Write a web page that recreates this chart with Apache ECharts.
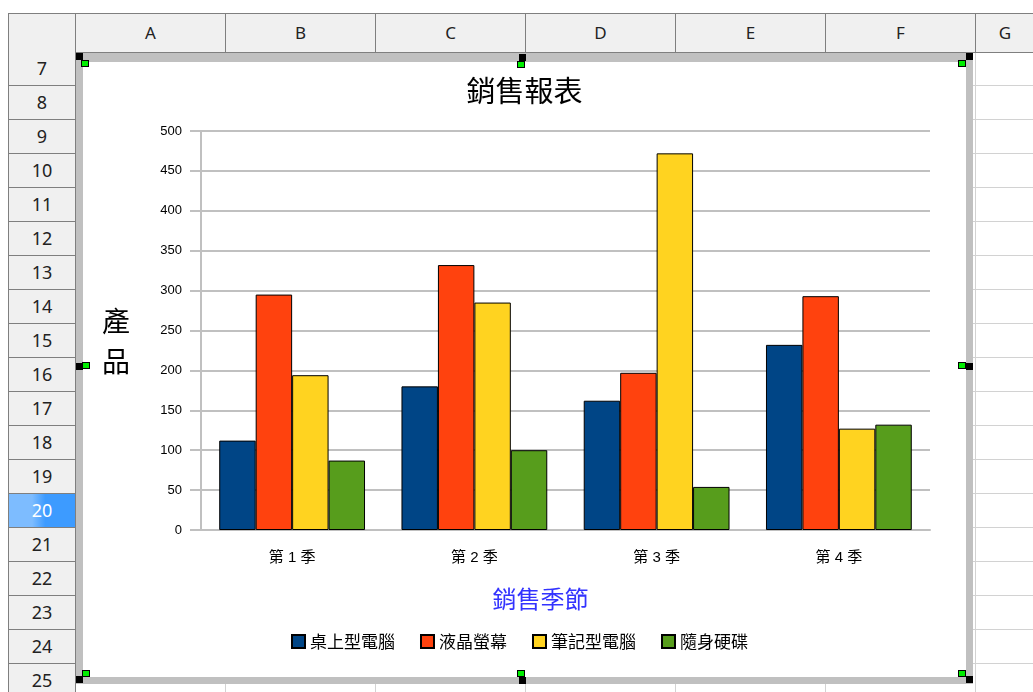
<!DOCTYPE html>
<html>
<head>
<meta charset="utf-8">
<title>銷售報表</title>
<script src="https://cdn.jsdelivr.net/npm/echarts@6/dist/echarts.min.js"></script>
<style>
  html, body { margin: 0; padding: 0; background: #fff; width: 1033px; height: 692px; overflow: hidden; position: relative; font-family: "Noto Sans", "Open Sans", sans-serif; }
  .abs { position: absolute; box-sizing: border-box; }
  .colhead { background: #f0f0f0; border: 1px solid #7f7f7f; border-left: none; top: 13px; height: 40px; text-align: center; line-height: 38px; font-size: 17px; color: #222; }
  .rowhead { background: #f0f0f0; border: 1px solid #7f7f7f; border-top: none; left: 8px; width: 68px; height: 34px; text-align: center; line-height: 33px; font-size: 18px; color: #222; }
  .rowhead.sel { background: linear-gradient(to right, #7dbcff 0%, #7dbcff 35%, #3d9bff 55%, #3d9bff 100%); color: #fff; }
  .hline { height: 1px; background: #d2d2d2; }
  .vline { width: 1px; background: #d2d2d2; }
  .blk { width: 7px; height: 7px; background: #000; }
  .grn { width: 8px; height: 7px; background: #00ee00; border: 1px solid #000; }
</style>
</head>
<body>
<div id="sheet"></div>
<div class="abs" style="left:76px;top:53px;width:897px;height:631px;background:#c0c0c0;"></div>
<div id="main" class="abs" style="left:83px;top:62px;width:883px;height:615px;background:#fff;"></div>
<div id="handles"></div>
<script>
  // 表格外框
  var columns = ["A", "B", "C", "D", "E", "F", "G"];
  var rows = [7, 8, 9, 10, 11, 12, 13, 14, 15, 16, 17, 18, 19, 20, 21, 22, 23, 24, 25];
  var selectedRow = 20;

  // 圖表資料
  var categories = ["第 1 季", "第 2 季", "第 3 季", "第 4 季"];
  var seriesNames = ["桌上型電腦", "液晶螢幕", "筆記型電腦", "隨身硬碟"];
  var desktop = [112, 180, 162, 232];
  var lcd = [295, 332, 197, 293];
  var notebook = [194, 285, 472, 127];
  var hdd = [87, 100, 54, 132];
  var colors = ["#004586", "#ff420e", "#ffd320", "#579d1c"];

  var html = "";
  // 欄標題
  html += "<div class='abs colhead' style='left:8px;width:68px;border-left:1px solid #7f7f7f'></div>";
  columns.forEach(function(c, i) {
    var left = 76 + i * 150;
    var w = i === columns.length - 1 ? 1033 - left + 2 : 150;
    html += "<div class='abs colhead' style='left:" + left + "px;width:" + w + "px'>" + c + "</div>";
  });
  // 儲存格格線
  rows.forEach(function(r, i) {
    var top = 52 + i * 34;
    html += "<div class='abs hline' style='left:76px;width:960px;top:" + (top + 33) + "px'></div>";
  });
  for (var k = 1; k <= 7; k++) {
    html += "<div class='abs vline' style='top:53px;height:640px;left:" + (75 + k * 150) + "px'></div>";
  }
  // 列標題
  rows.forEach(function(r, i) {
    var top = 52 + i * 34;
    html += "<div class='abs rowhead" + (r === selectedRow ? " sel" : "") + "' style='top:" + top + "px'>" + r + "</div>";
  });
  document.getElementById("sheet").innerHTML = html;

  // 選取控點
  var h = "";
  var blacks = [[76, 53], [519, 54], [966, 53], [76, 363], [966, 363], [76, 676], [519, 677], [966, 676]];
  var greens = [[81, 60], [517, 61], [958, 60], [82, 362], [958, 362], [82, 670], [517, 670], [958, 670]];
  blacks.forEach(function(p) { h += "<div class='abs blk' style='left:" + p[0] + "px;top:" + p[1] + "px'></div>"; });
  greens.forEach(function(p) { h += "<div class='abs grn' style='left:" + p[0] + "px;top:" + p[1] + "px'></div>"; });
  document.getElementById("handles").innerHTML = h;

  var fontCJK = "'Liberation Sans', 'Noto Sans CJK TC', sans-serif";
  var fontTC = "'Noto Sans CJK TC', sans-serif";
  var myChart = echarts.init(document.getElementById("main"));
  var data = [desktop, lcd, notebook, hdd];
  var series = [];
  seriesNames.forEach(function(name, i) {
    series.push({
      name: name,
      type: "bar",
      data: data[i],
      barGap: "0%",
      barCategoryGap: "20%",
      itemStyle: { color: colors[i], borderColor: "#000", borderWidth: 1 }
    });
  });

  var option = {
    animation: false,
    color: colors,
    textStyle: { fontFamily: fontCJK },
    title: {
      text: "銷售報表",
      left: "center",
      top: 9,
      textStyle: { fontSize: 29, fontWeight: "normal", color: "#000", fontFamily: fontTC }
    },
    grid: { left: 118, right: 36, top: 69, bottom: 147 },
    legend: {
      data: seriesNames,
      top: 566,
      left: 203,
      itemWidth: 13,
      itemHeight: 13,
      itemGap: 25,
      icon: "rect",
      textStyle: { fontSize: 17, color: "#000", fontFamily: fontTC }
    },
    xAxis: {
      type: "category",
      data: categories,
      name: "銷售季節",
      nameLocation: "middle",
      nameGap: 57,
      nameTextStyle: { color: "#3333ff", fontSize: 24, padding: [0, 50, 0, 0], fontFamily: fontTC },
      axisLine: { lineStyle: { color: "#c0c0c0", width: 2 } },
      axisTick: { alignWithLabel: false, length: 9, lineStyle: { color: "#c0c0c0", width: 2 } },
      axisLabel: { margin: 20, fontSize: 15, color: "#000", fontFamily: fontCJK }
    },
    yAxis: {
      type: "value",
      min: 0,
      max: 500,
      interval: 50,
      name: "{s| }\n產\n品",
      nameLocation: "middle",
      nameRotate: 0,
      nameGap: 71,
      nameTextStyle: {
        fontSize: 28, color: "#000", lineHeight: 40, fontFamily: fontTC,
        rich: { s: { fontSize: 10, lineHeight: 22 } }
      },
      axisLine: { show: true, lineStyle: { color: "#c0c0c0", width: 2 } },
      axisTick: { show: true, length: 11, lineStyle: { color: "#c0c0c0", width: 2 } },
      axisLabel: { margin: 19, fontSize: 13, color: "#000", fontFamily: fontCJK },
      splitLine: { lineStyle: { color: "#c0c0c0", width: 2 } }
    },
    series: series
  };
  myChart.setOption(option);
</script>
</body>
</html>
